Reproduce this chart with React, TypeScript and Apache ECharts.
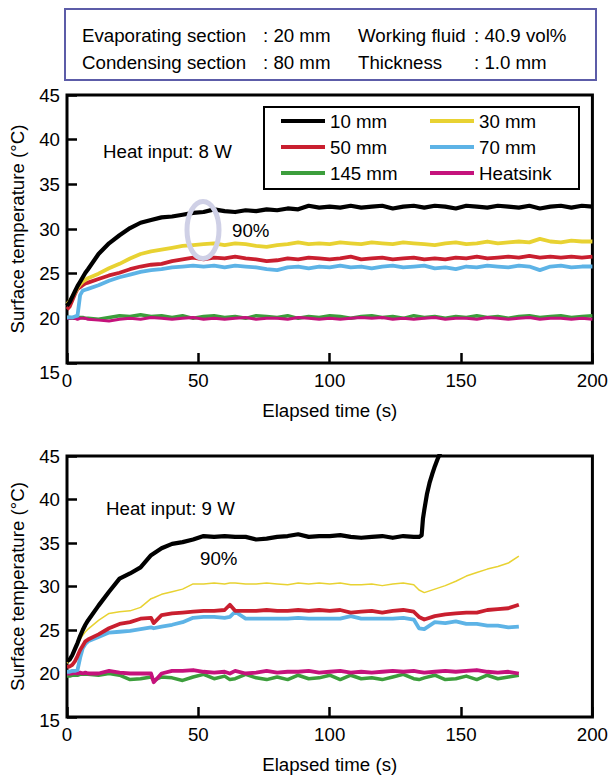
import React, { useEffect, useRef } from "react";
import * as echarts from "echarts";

const FONT = '"Liberation Sans", Arial, Helvetica, sans-serif';
const FS = 18.7;

// ---------- tick labels / names ----------
const seriesNames = ["10 mm", "30 mm", "50 mm", "70 mm", "145 mm", "Heatsink"];
const seriesColors = ["#000000", "#e8d232", "#c91f2f", "#5db3e6", "#3c9e3c", "#c5127c"];

// ---------- Chart 1: Heat input 8 W ----------
const timeA = [0, 1, 2, 3, 4, 5, 6, 7, 8, 12, 16, 20, 24, 28, 32, 36, 40, 44, 48, 52, 56, 60, 64, 68, 72, 76, 80, 84, 88, 92, 96, 100, 104, 108, 112, 116, 120, 124, 128, 132, 136, 140, 144, 148, 152, 156, 160, 164, 168, 172, 176, 180, 184, 188, 192, 196, 200];
const a10 = [21.4, 21.8, 22.4, 23.0, 23.6, 24.1, 24.6, 25.1, 25.5, 27.2, 28.4, 29.3, 30.1, 30.7, 31.0, 31.3, 31.4, 31.6, 31.8, 31.9, 32.2, 32.0, 31.9, 32.1, 32.0, 32.2, 32.1, 32.3, 32.2, 32.6, 32.4, 32.5, 32.4, 32.6, 32.4, 32.5, 32.6, 32.3, 32.5, 32.6, 32.4, 32.6, 32.5, 32.3, 32.6, 32.5, 32.4, 32.6, 32.5, 32.4, 32.6, 32.3, 32.5, 32.6, 32.4, 32.6, 32.5];
const a30 = [21.6, 21.9, 22.4, 22.9, 23.4, 23.8, 24.1, 24.3, 24.5, 25.0, 25.6, 26.1, 26.7, 27.2, 27.5, 27.7, 27.9, 28.1, 28.2, 28.3, 28.4, 28.2, 28.4, 28.3, 28.1, 28.0, 28.2, 28.3, 28.5, 28.3, 28.4, 28.3, 28.5, 28.4, 28.3, 28.5, 28.4, 28.3, 28.5, 28.4, 28.3, 28.2, 28.4, 28.5, 28.3, 28.4, 28.6, 28.4, 28.5, 28.6, 28.5, 28.9, 28.6, 28.5, 28.7, 28.6, 28.6];
const a50 = [21.0, 21.3, 22.0, 22.7, 23.3, 23.5, 23.7, 23.9, 24.0, 24.4, 24.8, 25.1, 25.5, 25.8, 26.0, 26.1, 26.4, 26.6, 26.8, 26.6, 26.8, 26.7, 26.9, 26.7, 26.6, 26.4, 26.5, 26.7, 26.6, 26.8, 26.7, 26.6, 26.7, 26.9, 26.6, 26.7, 26.8, 26.6, 26.7, 26.8, 26.6, 26.7, 26.6, 26.8, 26.7, 26.9, 26.7, 26.8, 26.9, 26.8, 27.0, 26.8, 26.9, 26.8, 26.9, 26.8, 26.9];
const a70 = [20.1, 20.1, 20.1, 20.2, 20.3, 22.6, 23.1, 23.2, 23.3, 23.7, 24.2, 24.6, 24.9, 25.2, 25.4, 25.5, 25.7, 25.8, 25.9, 25.8, 25.9, 25.7, 25.9, 25.8, 25.7, 25.5, 25.4, 25.7, 25.8, 25.6, 25.8, 25.7, 25.9, 25.7, 25.8, 25.6, 25.8, 25.9, 25.7, 25.8, 25.9, 25.6, 25.7, 25.5, 25.8, 25.7, 25.9, 25.8, 25.7, 25.9, 25.8, 25.4, 25.8, 25.9, 25.7, 25.8, 25.8];
const a145 = [20.1, 20.1, 20.0, 20.1, 20.0, 20.1, 20.1, 20.0, 20.0, 19.9, 20.1, 20.3, 20.2, 20.4, 20.2, 20.3, 20.1, 20.3, 20.0, 20.2, 20.3, 20.1, 20.2, 20.0, 20.3, 20.2, 20.1, 20.3, 20.0, 20.2, 20.1, 20.3, 20.2, 20.0, 20.2, 20.3, 20.1, 20.2, 20.0, 20.3, 20.1, 20.2, 20.0, 20.2, 20.1, 20.3, 20.1, 20.2, 20.0, 20.2, 20.3, 20.1, 20.2, 20.3, 20.1, 20.2, 20.3];
const aSink = [20.0, 20.0, 20.0, 20.0, 19.9, 20.0, 20.0, 20.0, 19.9, 19.8, 19.7, 19.9, 20.0, 19.9, 20.1, 20.0, 19.9, 20.0, 20.1, 19.9, 20.0, 19.9, 20.0, 20.1, 19.9, 20.0, 20.0, 19.9, 20.1, 20.0, 19.9, 20.0, 19.9, 20.0, 20.1, 20.0, 20.1, 19.9, 20.0, 19.9, 20.0, 20.1, 19.9, 20.0, 20.0, 19.9, 20.1, 20.0, 19.9, 20.0, 20.1, 19.9, 20.0, 20.0, 19.9, 20.0, 19.9];

// ---------- Chart 2: Heat input 9 W ----------
const timeB10 = [0, 1, 2, 3, 4, 5, 6, 7, 8, 12, 16, 20, 24, 28, 32, 36, 40, 44, 48, 52, 56, 60, 64, 68, 72, 76, 80, 84, 88, 92, 96, 100, 104, 108, 112, 116, 120, 124, 128, 132, 134, 135, 135.5, 136, 137, 138, 139, 140, 141, 142, 143];
const b10 = [21.4, 21.6, 22.1, 22.8, 23.5, 24.3, 25.0, 25.6, 26.1, 27.8, 29.4, 30.9, 31.5, 32.2, 33.6, 34.4, 34.9, 35.1, 35.4, 35.8, 35.7, 35.8, 35.7, 35.7, 35.4, 35.5, 35.7, 35.8, 36.0, 35.7, 35.8, 35.8, 35.9, 35.7, 35.6, 35.7, 35.8, 35.6, 35.8, 35.7, 35.7, 35.9, 37.8, 38.8, 40.6, 41.9, 42.9, 43.8, 44.6, 45.3, 46.0];
const timeB = [0, 1, 2, 3, 4, 5, 6, 7, 8, 12, 16, 20, 24, 28, 32, 33, 36, 40, 44, 48, 52, 56, 60, 62, 64, 68, 72, 76, 80, 84, 88, 92, 96, 100, 104, 108, 112, 116, 120, 124, 128, 132, 134, 136, 140, 144, 148, 152, 156, 160, 164, 168, 172];
const b30 = [21.2, 21.4, 21.9, 22.6, 23.3, 23.9, 24.4, 24.8, 25.1, 26.1, 26.9, 27.1, 27.2, 27.6, 28.6, 28.7, 29.1, 29.4, 29.7, 30.3, 30.3, 30.4, 30.3, 30.4, 30.4, 30.3, 30.3, 30.4, 30.3, 30.2, 30.4, 30.3, 30.4, 30.3, 30.4, 30.2, 30.2, 30.3, 30.1, 30.3, 30.4, 30.2, 29.6, 29.3, 29.7, 30.1, 30.6, 31.2, 31.6, 32.0, 32.3, 32.7, 33.5];
const b50 = [20.8, 20.8, 21.0, 21.4, 22.0, 22.7, 23.2, 23.7, 23.9, 24.5, 25.2, 25.7, 25.9, 26.3, 26.4, 25.8, 26.7, 26.9, 27.0, 27.1, 27.2, 27.2, 27.3, 27.9, 27.2, 27.2, 27.2, 27.3, 27.2, 27.2, 27.3, 27.2, 27.3, 27.2, 27.3, 27.0, 27.1, 27.2, 27.0, 27.2, 27.3, 27.1, 26.5, 26.2, 26.6, 26.8, 26.9, 27.0, 27.0, 27.3, 27.4, 27.5, 27.9];
const b70 = [20.2, 20.2, 20.3, 20.3, 20.4, 21.8, 22.9, 23.4, 23.7, 24.2, 24.7, 24.8, 24.9, 25.1, 25.3, 25.2, 25.4, 25.6, 25.9, 26.4, 26.5, 26.5, 26.4, 26.5, 27.1, 26.3, 26.3, 26.3, 26.3, 26.3, 26.4, 26.3, 26.3, 26.3, 26.3, 26.6, 26.3, 26.3, 26.3, 26.3, 26.4, 26.2, 25.2, 25.1, 25.9, 25.8, 26.0, 25.7, 25.7, 25.5, 25.5, 25.3, 25.4];
const b145 = [19.7, 19.7, 19.8, 19.8, 19.8, 19.9, 19.9, 19.9, 19.9, 19.8, 20.0, 19.8, 19.3, 19.4, 19.6, 19.2, 19.6, 19.5, 19.2, 19.6, 19.9, 19.4, 19.7, 19.3, 19.4, 19.9, 19.5, 19.3, 19.6, 19.3, 19.8, 19.4, 19.5, 19.8, 19.3, 19.8, 19.4, 19.5, 19.3, 19.6, 19.9, 19.4, 19.3, 19.5, 19.8, 19.3, 19.4, 19.7, 19.3, 19.8, 19.4, 19.6, 19.8];
const bSink = [20.0, 20.0, 20.0, 20.1, 20.0, 20.1, 20.0, 20.1, 20.0, 20.0, 20.3, 20.1, 20.0, 20.0, 20.0, 19.0, 20.0, 20.3, 20.3, 20.4, 20.2, 20.1, 20.2, 20.0, 20.3, 20.0, 20.1, 20.3, 20.1, 20.2, 20.2, 20.3, 20.1, 20.2, 20.3, 20.1, 20.2, 20.1, 20.2, 20.3, 20.2, 20.3, 20.2, 20.1, 20.2, 20.3, 20.2, 20.3, 20.4, 20.2, 20.1, 20.2, 20.0];

// ---------- axis ----------
const xMin = 0, xMax = 200, xStep = 50;
const yMin = 15, yMax = 45, yStep = 5;

const zip = (t: number[], v: number[]) => t.map((x, i) => [x, v[i]]);

function makeX(idx: number) {
  return {
    type: "value", gridIndex: idx, min: xMin, max: xMax, interval: xStep,
    name: "Elapsed time (s)", nameLocation: "middle", nameGap: 38,
    nameTextStyle: { fontSize: FS, color: "#000", fontFamily: FONT },
    axisLine: { show: false },
    axisTick: { show: true, inside: true, length: 10, lineStyle: { color: "#000", width: 2.5 } },
    axisLabel: { fontSize: FS, color: "#000", fontFamily: FONT, margin: 8 },
    splitLine: { show: false },
  };
}
function makeY(idx: number, lowShift: number) {
  return {
    type: "value", gridIndex: idx, min: yMin, max: yMax, interval: yStep,
    name: "Surface temperature (°C)", nameLocation: "middle", nameGap: 40, nameRotate: 90,
    nameTextStyle: { fontSize: FS, color: "#000", fontFamily: FONT },
    axisLine: { show: false },
    axisTick: { show: true, inside: true, length: 10, lineStyle: { color: "#000", width: 2.5 } },
    axisLabel: {
      fontSize: FS, color: "#000", fontFamily: FONT, margin: 7,
      formatter: (v: number) => (v === yMin ? "{lo|" + v + "}" : String(v)),
      rich: { lo: { fontSize: FS, color: "#000", fontFamily: FONT, padding: [lowShift, 0, 0, 0] } },
    },
    splitLine: { show: false },
  };
}

function line(name: string, grid: number, t: number[], v: number[], width: number, z: number) {
  const c = seriesColors[seriesNames.indexOf(name)];
  return {
    type: "line", name, xAxisIndex: grid, yAxisIndex: grid,
    data: zip(t, v), showSymbol: false, symbol: "none", clip: true,
    color: c, lineStyle: { color: c, width, join: "round" }, z,
  };
}

export default function App() {
  const ref = useRef<HTMLDivElement>(null);
  useEffect(() => {
    if (!ref.current) return;
    const chart = echarts.init(ref.current, undefined, { renderer: "svg" });
    const txt = (text: string, x: number, y: number, extra: any = {}) => ({
      type: "text", x, y, z: 100,
      style: { text, fontSize: FS, fontFamily: FONT, fill: "#000", verticalAlign: "middle", ...extra },
    });
    chart.setOption({
      animation: false,
      backgroundColor: "#fff",
      grid: [
        { left: 65, top: 95, width: 529, height: 268, show: true, borderColor: "#000", borderWidth: 3, backgroundColor: "transparent" },
        { left: 65, top: 456, width: 529, height: 261, show: true, borderColor: "#000", borderWidth: 3, backgroundColor: "transparent" },
      ],
      xAxis: [makeX(0), makeX(1)],
      yAxis: [makeY(0, 18), makeY(1, 6)],
      legend: {
        data: seriesNames, left: 264, top: 107, width: 300, orient: "horizontal",
        padding: [1, 0, 3, 17], itemGap: 0, itemWidth: 44, itemHeight: 4, icon: "rect",
        borderColor: "#000", borderWidth: 2, backgroundColor: "#fff", selectedMode: false,
        textStyle: { fontSize: FS, color: "#000", fontFamily: FONT, width: 100, lineHeight: 16, padding: [10, 0, 0, 0] },
      },
      series: [
        line("145 mm", 0, timeA, a145, 3.5, 2),
        line("Heatsink", 0, timeA, aSink, 3, 3),
        line("70 mm", 0, timeA, a70, 3.8, 4),
        line("50 mm", 0, timeA, a50, 3.8, 5),
        line("30 mm", 0, timeA, a30, 3.8, 6),
        line("10 mm", 0, timeA, a10, 4.2, 7),
        line("145 mm", 1, timeB, b145, 3.5, 2),
        line("Heatsink", 1, timeB, bSink, 3.8, 3),
        line("70 mm", 1, timeB, b70, 3.8, 4),
        line("50 mm", 1, timeB, b50, 3.8, 5),
        line("30 mm", 1, timeB, b30, 1.5, 6),
        line("10 mm", 1, timeB10, b10, 4.2, 7),
      ],
      graphic: [
        { type: "rect", z: 100, shape: { x: 65, y: 9, width: 531, height: 71 }, style: { fill: "none", stroke: "#5c5ca8", lineWidth: 2 } },
        txt("Evaporating section", 82, 35),
        txt(": 20 mm", 263, 35),
        txt("Working fluid", 358, 35),
        txt(": 40.9 vol%", 474, 35),
        txt("Condensing section", 82, 62),
        txt(": 80 mm", 263, 62),
        txt("Thickness", 358, 62),
        txt(": 1.0 mm", 474, 62),
        txt("Heat input: 8 W", 103, 151),
        txt("90%", 232, 230),
        { type: "ellipse", z: 100, shape: { cx: 203, cy: 230, rx: 16, ry: 28.5 }, style: { fill: "none", stroke: "#cfd0e6", lineWidth: 5 } },
        txt("Heat input: 9 W", 106, 508),
        txt("90%", 200, 558),
      ],
    });
    return () => chart.dispose();
  }, []);
  return <div ref={ref} style={{ position: "absolute", left: 0, top: 0, width: 611, height: 775 }} />;
}
